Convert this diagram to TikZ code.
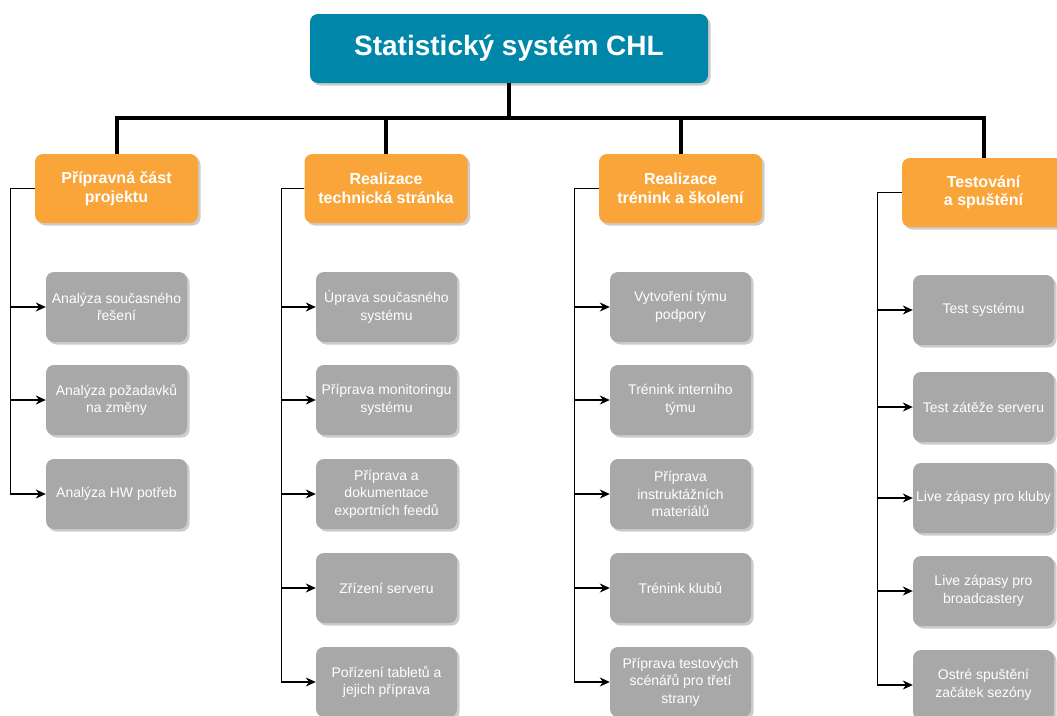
\documentclass[tikz,border=0pt]{standalone}
\usepackage{fontspec}
\setmainfont{Liberation Sans}
\usetikzlibrary{arrows.meta,shadows}

\definecolor{chlblue}{HTML}{0086A8}
\definecolor{chlorange}{HTML}{FAA53A}
\definecolor{chlgray}{HTML}{A8A8A8}

\begin{document}
\begin{tikzpicture}[x=1pt, y=-1pt,
  box/.style={rounded corners=8pt, text=white, align=center, inner sep=0pt,
    drop shadow={shadow xshift=2.5pt, shadow yshift=-2.5pt, fill=black!20, opacity=1}},
  rootbox/.style={box, fill=chlblue, minimum width=398pt, minimum height=69pt,
    font=\fontsize{28}{32}\selectfont\bfseries},
  phase/.style={box, fill=chlorange, minimum width=163pt, minimum height=69pt,
    font=\fontsize{16}{18.5}\selectfont\bfseries},
  task/.style={box, fill=chlgray, minimum width=141pt, minimum height=70pt,
    font=\fontsize{14}{17.5}\selectfont},
  bus/.style={line width=4pt},
  link/.style={line width=1.2pt, -{Stealth[length=10pt, width=9pt]}}]
  \useasboundingbox (0,0) rectangle (1057,715);

  \node[rootbox] (root) at (509,48.5) {Statistický systém CHL};

  % phases
  \node[phase] (prep)  at (116.5,188.5) {Přípravná část\\projektu};
  \node[phase] (tech)  at (386,188.5)   {Realizace\\technická stránka};
  \node[phase] (train) at (680.5,188.5) {Realizace\\trénink a školení};
  \node[phase] (test)  at (983.5,192.5) {Testování\\a spuštění};

  % tasks
  \node[task] (prep1) at (116.5,307) {Analýza současného\\řešení};
  \node[task] (prep2) at (116.5,400) {Analýza požadavků\\na změny};
  \node[task] (prep3) at (116.5,494) {Analýza HW potřeb};

  \node[task] (tech1) at (386.5,307) {Úprava současného\\systému};
  \node[task] (tech2) at (386.5,400) {Příprava monitoringu\\systému};
  \node[task] (tech3) at (386.5,494) {Příprava a\\dokumentace\\exportních feedů};
  \node[task] (tech4) at (386.5,588) {Zřízení serveru};
  \node[task] (tech5) at (386.5,682) {Pořízení tabletů a\\jejich příprava};

  \node[task] (train1) at (680.5,307) {Vytvoření týmu\\podpory};
  \node[task] (train2) at (680.5,400) {Trénink interního\\týmu};
  \node[task] (train3) at (680.5,494) {Příprava\\instruktážních\\materiálů};
  \node[task] (train4) at (680.5,588) {Trénink klubů};
  \node[task] (train5) at (680.5,682) {Příprava testových\\scénářů pro třetí\\strany};

  \node[task] (test1) at (983.5,310) {Test systému};
  \node[task] (test2) at (983.5,407) {Test zátěže serveru};
  \node[task] (test3) at (983.5,498) {Live zápasy pro kluby};
  \node[task] (test4) at (983.5,591) {Live zápasy pro\\broadcastery};
  \node[task] (test5) at (983.5,685) {Ostré spuštění\\začátek sezóny};

  % connectors
  \foreach \p in {prep,tech,train,test}
    \draw[bus] (root.south) -- ++(0,35) -| (\p.north);

  \foreach \t in {prep1,prep2,prep3}
    \draw[link] (prep.west) -- ++(-24,0) |- (\t.west);
  \foreach \t in {tech1,tech2,tech3,tech4,tech5}
    \draw[link] (tech.west) -- ++(-23,0) |- (\t.west);
  \foreach \t in {train1,train2,train3,train4,train5}
    \draw[link] (train.west) -- ++(-24,0) |- (\t.west);
  \foreach \t in {test1,test2,test3,test4,test5}
    \draw[link] (test.west) -- ++(-24,0) |- (\t.west);
\end{tikzpicture}
\end{document}
